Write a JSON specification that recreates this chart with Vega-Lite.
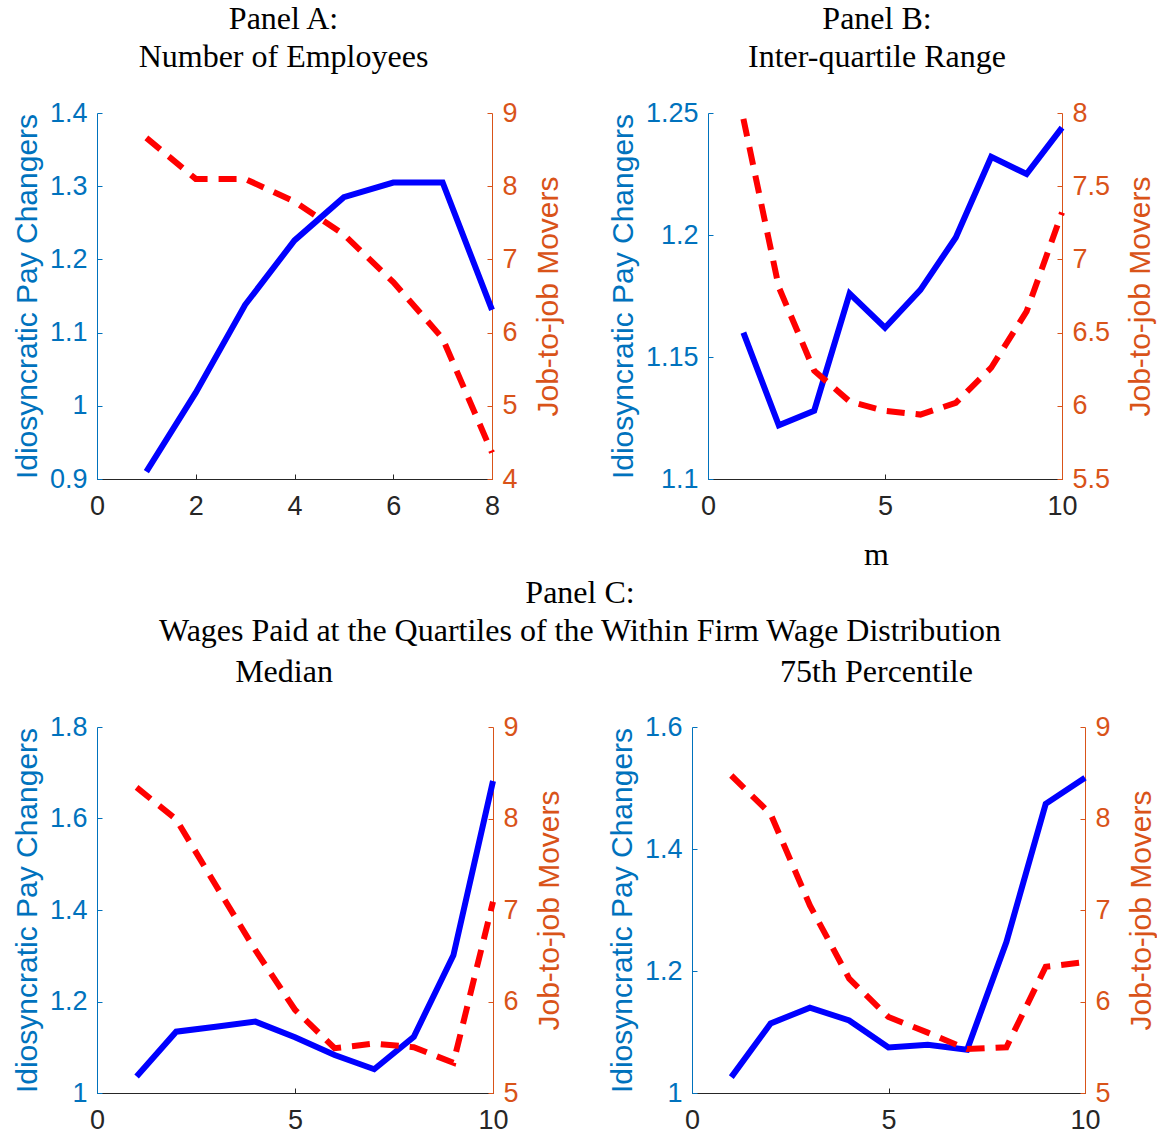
{
  "$schema": "https://vega.github.io/schema/vega-lite/v6.json",
  "autosize": {"type": "pad"},
  "padding": {"left": 12, "top": 3, "right": 0, "bottom": 0},
  "background": "white",
  "config": {
    "view": {"stroke": null},
    "axis": {
      "grid": false,
      "labelFont": "Liberation Sans",
      "labelFontSize": 27,
      "titleFont": "Liberation Sans",
      "titleFontSize": 30,
      "titleFontWeight": "normal",
      "domainWidth": 1,
      "tickWidth": 1,
      "tickSize": -5,
      "labelFlush": false,
      "labelOverlap": false
    },
    "axisX": {
      "domainColor": "#262626",
      "tickColor": "#262626",
      "labelColor": "#262626",
      "labelPadding": 19
    },
    "axisLeft": {"titlePadding": 7},
    "axisRight": {"titlePadding": 16, "titleBaseline": "top", "titleAngle": 270},
    "title": {
      "font": "Liberation Serif",
      "fontSize": 32,
      "fontWeight": "normal",
      "color": "#000000",
      "frame": "group",
      "anchor": "middle",
      "lineHeight": 38,
      "offset": 25,
      "dx": -11
    }
  },
  "datasets": {
    "a": [
      {"m": 1, "ipc": 0.910, "jjm": 8.66},
      {"m": 2, "ipc": 1.018, "jjm": 8.10},
      {"m": 3, "ipc": 1.138, "jjm": 8.10},
      {"m": 4, "ipc": 1.226, "jjm": 7.79},
      {"m": 5, "ipc": 1.285, "jjm": 7.34},
      {"m": 6, "ipc": 1.305, "jjm": 6.69},
      {"m": 7, "ipc": 1.305, "jjm": 5.92},
      {"m": 8, "ipc": 1.131, "jjm": 4.36}
    ],
    "b": [
      {"m": 1, "ipc": 1.160, "jjm": 7.96},
      {"m": 2, "ipc": 1.122, "jjm": 6.81},
      {"m": 3, "ipc": 1.128, "jjm": 6.24},
      {"m": 4, "ipc": 1.176, "jjm": 6.03},
      {"m": 5, "ipc": 1.162, "jjm": 5.965},
      {"m": 6, "ipc": 1.1775, "jjm": 5.94},
      {"m": 7, "ipc": 1.199, "jjm": 6.02},
      {"m": 8, "ipc": 1.232, "jjm": 6.26},
      {"m": 9, "ipc": 1.225, "jjm": 6.645},
      {"m": 10, "ipc": 1.244, "jjm": 7.32}
    ],
    "c1": [
      {"m": 1, "ipc": 1.036, "jjm": 8.34},
      {"m": 2, "ipc": 1.134, "jjm": 7.99},
      {"m": 3, "ipc": 1.145, "jjm": 7.27},
      {"m": 4, "ipc": 1.156, "jjm": 6.56},
      {"m": 5, "ipc": 1.122, "jjm": 5.91},
      {"m": 6, "ipc": 1.083, "jjm": 5.49},
      {"m": 7, "ipc": 1.052, "jjm": 5.54},
      {"m": 8, "ipc": 1.123, "jjm": 5.50},
      {"m": 9, "ipc": 1.301, "jjm": 5.33},
      {"m": 10, "ipc": 1.682, "jjm": 7.09}
    ],
    "c2": [
      {"m": 1, "ipc": 1.026, "jjm": 8.47},
      {"m": 2, "ipc": 1.114, "jjm": 8.05},
      {"m": 3, "ipc": 1.140, "jjm": 7.05},
      {"m": 4, "ipc": 1.119, "jjm": 6.25},
      {"m": 5, "ipc": 1.0745, "jjm": 5.83},
      {"m": 6, "ipc": 1.079, "jjm": 5.66},
      {"m": 7, "ipc": 1.071, "jjm": 5.48},
      {"m": 8, "ipc": 1.2475, "jjm": 5.50},
      {"m": 9, "ipc": 1.474, "jjm": 6.38},
      {"m": 10, "ipc": 1.517, "jjm": 6.43}
    ]
  },
  "spacing": 7,
  "vconcat": [
    {
      "spacing": 216,
      "bounds": "flush",
      "hconcat": [
        {
          "width": 395,
          "height": 366,
          "title": {"text": ["Panel A:", "Number of Employees"]},
          "data": {"name": "a"},
          "encoding": {
            "x": {"field": "m", "type": "quantitative", "scale": {"domain": [0, 8], "nice": false, "zero": false}, "axis": {"values": [0, 2, 4, 6, 8], "title": null}}
          },
          "layer": [
            {
              "mark": {"type": "line", "color": "#0000FF", "strokeWidth": 6},
              "encoding": {"y": {"field": "ipc", "type": "quantitative", "scale": {"domain": [0.9, 1.4], "nice": false, "zero": false},
                "axis": {"orient": "left", "title": "Idiosyncratic Pay Changers", "values": [0.9, 1, 1.1, 1.2, 1.3, 1.4], "format": "~g", "labelPadding": 15, "domainColor": "#0072BD", "tickColor": "#0072BD", "labelColor": "#0072BD", "titleColor": "#0072BD"}}}
            },
            {
              "mark": {"type": "line", "color": "#FF0000", "strokeWidth": 6, "strokeDash": [18, 11]},
              "encoding": {"y": {"field": "jjm", "type": "quantitative", "scale": {"domain": [4, 9], "nice": false, "zero": false},
                "axis": {"orient": "right", "title": "Job-to-job Movers", "values": [4, 5, 6, 7, 8, 9], "format": "~g", "labelPadding": 15, "domainColor": "#D95319", "tickColor": "#D95319", "labelColor": "#D95319", "titleColor": "#D95319"}}}
            }
          ],
          "resolve": {"scale": {"y": "independent"}}
        },
        {
          "width": 354,
          "height": 366,
          "title": {"text": ["Panel B:", "Inter-quartile Range"], "dx": -8},
          "data": {"name": "b"},
          "encoding": {
            "x": {"field": "m", "type": "quantitative", "scale": {"domain": [0, 10], "nice": false, "zero": false}, "axis": {"values": [0, 5, 10], "title": "m", "titleFont": "Liberation Serif", "titleFontSize": 32, "titleColor": "#000000", "titlePadding": 20, "titleX": 168}}
          },
          "layer": [
            {
              "mark": {"type": "line", "color": "#0000FF", "strokeWidth": 6},
              "encoding": {"y": {"field": "ipc", "type": "quantitative", "scale": {"domain": [1.1, 1.25], "nice": false, "zero": false},
                "axis": {"orient": "left", "title": "Idiosyncratic Pay Changers", "values": [1.1, 1.15, 1.2, 1.25], "format": "~g", "labelPadding": 15, "domainColor": "#0072BD", "tickColor": "#0072BD", "labelColor": "#0072BD", "titleColor": "#0072BD"}}}
            },
            {
              "mark": {"type": "line", "color": "#FF0000", "strokeWidth": 6, "strokeDash": [18, 11]},
              "encoding": {"y": {"field": "jjm", "type": "quantitative", "scale": {"domain": [5.5, 8], "nice": false, "zero": false},
                "axis": {"orient": "right", "title": "Job-to-job Movers", "values": [5.5, 6, 6.5, 7, 7.5, 8], "format": "~g", "labelPadding": 15, "domainColor": "#D95319", "tickColor": "#D95319", "labelColor": "#D95319", "titleColor": "#D95319"}}}
            }
          ],
          "resolve": {"scale": {"y": "independent"}}
        }
      ]
    },
    {
      "spacing": 199,
      "bounds": "flush",
      "title": {"text": ["Panel C:", "Wages Paid at the Quartiles of the Within Firm Wage Distribution"], "offset": 8, "dx": 483},
      "hconcat": [
        {
          "width": 396,
          "height": 366,
          "title": {"text": "Median", "offset": 24},
          "data": {"name": "c1"},
          "encoding": {
            "x": {"field": "m", "type": "quantitative", "scale": {"domain": [0, 10], "nice": false, "zero": false}, "axis": {"values": [0, 5, 10], "title": null}}
          },
          "layer": [
            {
              "mark": {"type": "line", "color": "#0000FF", "strokeWidth": 6},
              "encoding": {"y": {"field": "ipc", "type": "quantitative", "scale": {"domain": [1, 1.8], "nice": false, "zero": false},
                "axis": {"orient": "left", "title": "Idiosyncratic Pay Changers", "values": [1, 1.2, 1.4, 1.6, 1.8], "format": "~g", "labelPadding": 15, "domainColor": "#0072BD", "tickColor": "#0072BD", "labelColor": "#0072BD", "titleColor": "#0072BD"}}}
            },
            {
              "mark": {"type": "line", "color": "#FF0000", "strokeWidth": 6, "strokeDash": [18, 11]},
              "encoding": {"y": {"field": "jjm", "type": "quantitative", "scale": {"domain": [5, 9], "nice": false, "zero": false},
                "axis": {"orient": "right", "title": "Job-to-job Movers", "values": [5, 6, 7, 8, 9], "format": "~g", "labelPadding": 15, "domainColor": "#D95319", "tickColor": "#D95319", "labelColor": "#D95319", "titleColor": "#D95319"}}}
            }
          ],
          "resolve": {"scale": {"y": "independent"}}
        },
        {
          "width": 393,
          "height": 366,
          "title": {"text": "75th Percentile", "dx": -12, "offset": 24},
          "data": {"name": "c2"},
          "encoding": {
            "x": {"field": "m", "type": "quantitative", "scale": {"domain": [0, 10], "nice": false, "zero": false}, "axis": {"values": [0, 5, 10], "title": null}}
          },
          "layer": [
            {
              "mark": {"type": "line", "color": "#0000FF", "strokeWidth": 6},
              "encoding": {"y": {"field": "ipc", "type": "quantitative", "scale": {"domain": [1, 1.6], "nice": false, "zero": false},
                "axis": {"orient": "left", "title": "Idiosyncratic Pay Changers", "values": [1, 1.2, 1.4, 1.6], "format": "~g", "labelPadding": 15, "domainColor": "#0072BD", "tickColor": "#0072BD", "labelColor": "#0072BD", "titleColor": "#0072BD"}}}
            },
            {
              "mark": {"type": "line", "color": "#FF0000", "strokeWidth": 6, "strokeDash": [18, 11]},
              "encoding": {"y": {"field": "jjm", "type": "quantitative", "scale": {"domain": [5, 9], "nice": false, "zero": false},
                "axis": {"orient": "right", "title": "Job-to-job Movers", "values": [5, 6, 7, 8, 9], "format": "~g", "labelPadding": 15, "domainColor": "#D95319", "tickColor": "#D95319", "labelColor": "#D95319", "titleColor": "#D95319"}}}
            }
          ],
          "resolve": {"scale": {"y": "independent"}}
        }
      ]
    }
  ]
}
